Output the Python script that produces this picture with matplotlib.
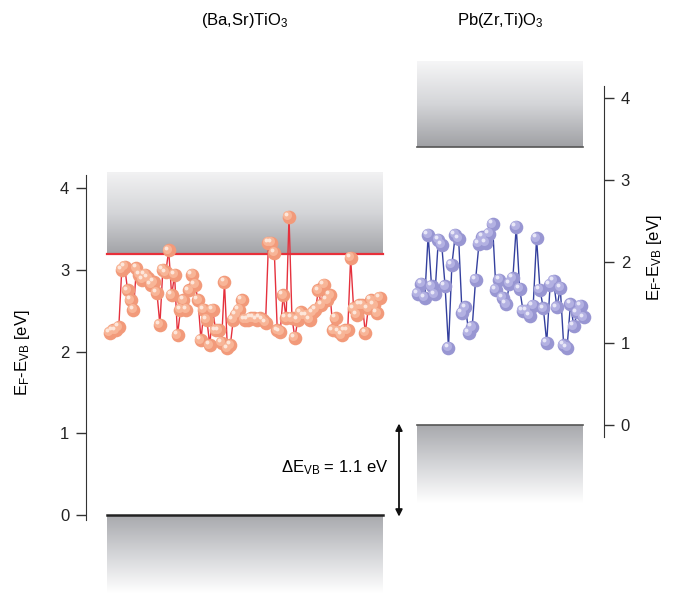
import numpy as np
import matplotlib.pyplot as plt
import matplotlib.transforms as mtransforms
from matplotlib.colors import LinearSegmentedColormap

plt.rcParams['font.family'] = ['Liberation Sans', 'DejaVu Sans']
plt.rcParams['mathtext.fontset'] = 'custom'
plt.rcParams['mathtext.rm'] = 'Liberation Sans'
plt.rcParams['mathtext.it'] = 'Liberation Sans'

# Fermi level positions relative to valence band maximum (eV)
bst_vals = [2.23, 2.26, 2.26, 2.30, 3.00, 3.04, 2.75, 2.63, 2.51, 3.02, 2.94, 2.88,
            2.94, 2.90, 2.82, 2.85, 2.72, 2.33, 3.00, 2.97, 3.24, 2.69, 2.94, 2.20,
            2.51, 2.63, 2.51, 2.75, 2.94, 2.82, 2.63, 2.14, 2.51, 2.39, 2.08, 2.51,
            2.26, 2.26, 2.11, 2.85, 2.04, 2.08, 2.39, 2.45, 2.51, 2.63, 2.39, 2.39,
            2.41, 2.41, 2.39, 2.41, 2.39, 2.35, 3.33, 3.33, 3.21, 2.26, 2.24, 2.69,
            2.41, 3.65, 2.41, 2.17, 2.39, 2.48, 2.44, 2.44, 2.39, 2.48, 2.51, 2.75,
            2.57, 2.82, 2.63, 2.69, 2.26, 2.41, 2.24, 2.20, 2.26, 2.26, 3.15, 2.53,
            2.45, 2.57, 2.57, 2.23, 2.53, 2.63, 2.57, 2.47, 2.66]
pzt_vals = [1.61, 1.73, 1.56, 2.33, 1.70, 1.60, 2.27, 2.21, 1.70, 0.95, 1.96, 2.33,
            2.28, 1.37, 1.44, 1.13, 1.20, 1.78, 2.22, 2.30, 2.23, 2.34, 2.46, 1.66,
            1.78, 1.56, 1.48, 1.73, 1.80, 2.43, 1.67, 1.40, 1.40, 1.34, 1.46, 2.29,
            1.66, 1.43, 1.01, 1.72, 1.77, 1.44, 1.68, 0.98, 0.95, 1.48, 1.21, 1.38,
            1.46, 1.32]

bst_cb = 3.2      # BST conduction band edge
pzt_cb = 3.4      # PZT conduction band edge (PZT scale)
dE_vb = 1.1       # valence band offset

W, H = 679, 593
fig = plt.figure(figsize=(W / 100, H / 100), dpi=100)
px = 81.7
ax = fig.add_axes([86 / W, 0, (604 - 86) / W, 1])
ax.set_xlim(86, 604)
ax.set_ylim(-(H - 515) / px, 515 / px)
ax2 = ax.twinx()
ax2.set_ylim(ax.get_ylim()[0] - dE_vb, ax.get_ylim()[1] - dE_vb)


def grad_rect(a, x0, x1, y_dark, y_light, dark='#9c9da1', light='#ffffff'):
    cmap = LinearSegmentedColormap.from_list('g', [dark, '#d4d5d8', light])
    g = np.linspace(0, 1, 256).reshape(-1, 1)
    lo, hi = min(y_dark, y_light), max(y_dark, y_light)
    if y_dark > y_light:
        g = g[::-1]
    a.imshow(g, cmap=cmap, extent=[x0, x1, lo, hi], origin='lower',
             aspect='auto', zorder=0, interpolation='bicubic')


# BST bands
grad_rect(ax, 107, 383, bst_cb, 4.2, dark='#a2a3a7', light='#f2f2f3')
ax.plot([107, 383], [bst_cb, bst_cb], color='#e8303a', lw=1.6, zorder=2)
grad_rect(ax, 107, 383, 0, -0.95, dark='#a8a9ad')
ax.plot([107, 383], [0, 0], color='#222222', lw=1.8, zorder=2)

# PZT bands
grad_rect(ax2, 417, 583, pzt_cb, 4.45, dark='#9fa0a4', light='#f6f6f7')
ax2.plot([417, 583], [pzt_cb, pzt_cb], color='#555555', lw=1.2, zorder=2)
grad_rect(ax2, 417, 583, 0, -0.95, dark='#a8a9ad')
ax2.plot([417, 583], [0, 0], color='#555555', lw=1.2, zorder=2)


def spheres(a, x, y, line_c, base_c, mid_c, hi_c):
    a.plot(x, y, color=line_c, lw=1.0, zorder=3)
    a.plot(x, y, 'o', ms=9.8, mfc=base_c, mec='none', zorder=4)
    off = mtransforms.offset_copy(a.transData, fig=fig, x=-1.1, y=1.1, units='points')
    a.plot(x, y, 'o', ms=6.5, mfc=mid_c, mec='none', zorder=5, transform=off)
    off2 = mtransforms.offset_copy(a.transData, fig=fig, x=-2.0, y=2.0, units='points')
    a.plot(x, y, 'o', ms=2.8, mfc=hi_c, mec='none', zorder=6, transform=off2)


bst_x = np.linspace(110, 380, len(bst_vals))
pzt_x = np.linspace(418, 584, len(pzt_vals))
spheres(ax, bst_x, bst_vals, '#e5313d', '#f29a7a', '#f8b597', '#fde6da')
spheres(ax2, pzt_x, pzt_vals, '#34409e', '#9896d2', '#b3b1e2', '#e8e7f7')

# valence band offset arrow
ax.annotate('', xy=(399, -0.02), xytext=(399, dE_vb + 0.02),
            arrowprops=dict(arrowstyle='<|-|>', color='#111111', lw=1.3,
                            mutation_scale=10, shrinkA=0, shrinkB=0))
ax.text(388, 0.58, r'$\Delta$E$_{\mathrm{VB}}$ = 1.1 eV', ha='right', va='center',
        fontsize=12)

# axes styling
for a in (ax, ax2):
    for s in a.spines.values():
        s.set_visible(False)
    a.set_xticks([])
    a.set_facecolor('none')
ax.spines['left'].set_visible(True)
ax.spines['left'].set_bounds(-0.06, 4.16)
ax.spines['left'].set_color('#333333')
ax.set_yticks([0, 1, 2, 3, 4])
ax.tick_params(axis='y', direction='out', length=7, width=1, colors='#333333',
               labelsize=12, pad=5, labelcolor='#222222')
ax2.spines['right'].set_visible(True)
ax2.spines['right'].set_bounds(-0.15, 4.15)
ax2.spines['right'].set_color('#333333')
ax2.set_yticks([0, 1, 2, 3, 4])
ax2.tick_params(axis='y', direction='out', length=7, width=1, colors='#333333',
                labelsize=12, pad=5, labelcolor='#222222')

ylab = r'E$_{\mathrm{F}}$-E$_{\mathrm{VB}}$ [eV]'
fig.text(22 / W, 1 - 353 / H, ylab, rotation=90, ha='center', va='center', fontsize=12)
fig.text(655 / W, 1 - 258 / H, ylab, rotation=90, ha='center', va='center', fontsize=12)

fig.text(245 / W, 1 - 20 / H, r'(Ba,Sr)TiO$_{\mathrm{3}}$', ha='center', va='center', fontsize=12)
fig.text(500 / W, 1 - 20 / H, r'Pb(Zr,Ti)O$_{\mathrm{3}}$', ha='center', va='center', fontsize=12)

fig.savefig('out.png', dpi=100)
